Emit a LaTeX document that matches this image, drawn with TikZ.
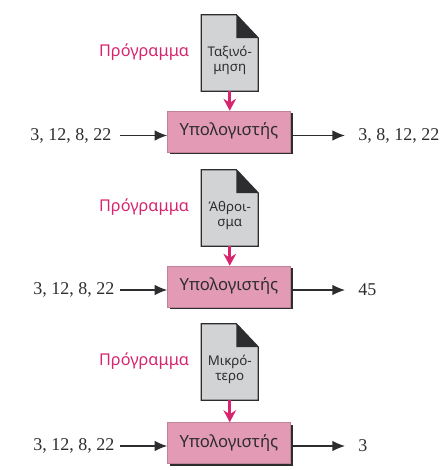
\documentclass[tikz,border=0pt]{standalone}
\usepackage{fontspec}
\setmainfont{Liberation Serif}
\newfontfamily\labelfont{Noto Sans}
\usetikzlibrary{arrows.meta,calc,positioning,shadows}
\definecolor{accent}{RGB}{214,36,110}
\definecolor{boxpink}{RGB}{227,154,181}
\definecolor{docgray}{RGB}{209,211,212}
\definecolor{inkdark}{RGB}{45,45,48}
\tikzset{
  docshape/.style={minimum width=42.4pt, minimum height=57pt, inner sep=0pt},
  doctitle/.style={font=\labelfont\fontsize{10}{11}\selectfont, align=center, text=inkdark, inner sep=0pt},
  progtitle/.style={font=\labelfont\fontsize{12.2}{14}\selectfont, text=accent, inner sep=0pt},
  computer/.style={draw=boxpink!85!black, line width=0.4pt, fill=boxpink, minimum width=92.25pt, minimum height=30.75pt, inner sep=0pt,
    font=\labelfont\fontsize{12.5}{14}\selectfont, text=inkdark,
    drop shadow={shadow xshift=1.6pt, shadow yshift=-1.6pt, opacity=1, fill=inkdark}},
  numbers/.style={font=\fontsize{13.5}{15}\selectfont, text=inkdark, inner sep=0pt},
  flow/.style={-{Latex[length=9.5pt,width=8pt]}, line width=1pt, draw=inkdark},
  progflow/.style={-{Stealth[length=9pt,width=9.5pt,inset=3pt]}, line width=2pt, draw=accent}
}
\begin{document}
\begin{tikzpicture}[x=0.75pt,y=-0.75pt]
\useasboundingbox (0,0) rectangle (445,470);

% Rows: document top, box centre, arrow height, titles, result
\foreach \i/\doctop/\boxmid/\flowy/\linea/\lineb/\inx/\outtext in {
  1/15/131.5/135.5/Ταξινό-/μηση/30/{3, 8, 12, 22},
  2/170/286.5/290/Άθροι-/σμα/33/45,
  3/324/443/446/Μικρό-/τερο/33/3}
{
  % Program document
  \node[docshape] (doc\i) at (229.75,\doctop+38) {};
  \draw[line width=1pt, draw=inkdark, fill=docgray] (doc\i.south west) -- (doc\i.north west)
    -- ([xshift=-16.5pt]doc\i.north east) -- ([yshift=-17.5pt]doc\i.north east)
    -- (doc\i.south east) -- cycle;
  \fill[inkdark] ([xshift=-16.5pt]doc\i.north east) -- ([yshift=-17.5pt]doc\i.north east)
    -- ([xshift=-16.5pt,yshift=-17.5pt]doc\i.north east) -- cycle;
  \node[doctitle] (title\i) at ([yshift=-5.5pt]doc\i.center) {\linea\\\lineb};
  \node[progtitle] (prog\i) at (144,\doctop+37) {Πρόγραμμα};

  % Computer and flows
  \node[computer] (pc\i) at (229,\boxmid) {Υπολογιστής};
  \node[numbers, anchor=west] (in\i) at (\inx,\flowy) {3, 12, 8, 22};
  \node[numbers, anchor=west] (out\i) at (358,\flowy) {\outtext};
  \coordinate (instart\i) at (120,\flowy);
  \coordinate (outend\i) at (345,\flowy);
  \draw[progflow] (doc\i.south) -- (doc\i.south |- pc\i.north);
  \draw[flow] (instart\i) -- (instart\i -| pc\i.west);
  \draw[flow] (pc\i.east |- outend\i) -- (outend\i);
}
\end{tikzpicture}
\end{document}
